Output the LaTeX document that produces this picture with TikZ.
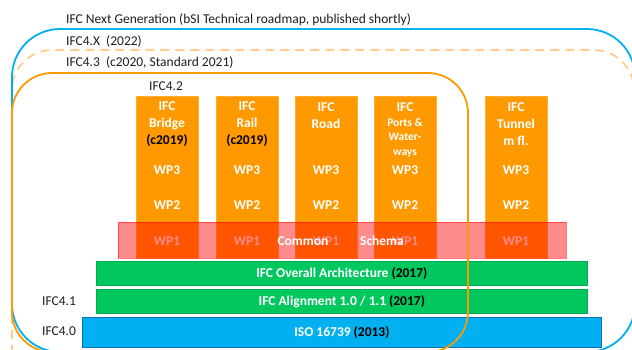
\documentclass[tikz,border=0pt]{standalone}
\usepackage{fontspec}
\setmainfont{Carlito}
\definecolor{ifcorange}{RGB}{255,153,0}
\definecolor{ifcdash}{RGB}{255,204,140}
\definecolor{ifcblue}{RGB}{0,176,240}
\definecolor{ifcblueedge}{RGB}{20,110,190}
\definecolor{ifcgreen}{RGB}{0,200,95}
\definecolor{ifcgreenedge}{RGB}{0,170,80}
\definecolor{ifctext}{RGB}{30,30,30}
\begin{document}
\begin{tikzpicture}[x=1pt,y=-1pt,
  lbl/.style={font=\fontsize{13.5}{16}\selectfont, text=ifctext, anchor=west, inner sep=0pt},
  wt/.style={font=\fontsize{13.5}{17}\bfseries\selectfont, text=white, inner sep=0pt, align=center},
  wtsmall/.style={font=\fontsize{11.5}{14.5}\bfseries\selectfont, text=white, inner sep=0pt, align=center},
  colbox/.style={fill=ifcorange, draw=ifcorange!80!white, line width=0.4pt, minimum width=62pt, minimum height=162pt, anchor=north west, inner sep=0pt},
  pinkbox/.style={fill=red, fill opacity=0.45, draw=red, draw opacity=0.5, line width=0.8pt, minimum width=448pt, minimum height=36pt, anchor=north west, inner sep=0pt},
  greenbar/.style={fill=ifcgreen, draw=ifcgreenedge, line width=0.6pt, minimum width=491pt, minimum height=24pt, anchor=north west, inner sep=0pt},
  bluebar/.style={fill=ifcblue, draw=ifcblueedge, line width=0.8pt, minimum width=519pt, minimum height=30pt, anchor=north west, inner sep=0pt},
  bartext/.style={font=\fontsize{13.5}{16}\bfseries\selectfont, text=white, inner sep=0pt},
  outline/.style={line width=1.8pt}
]
\useasboundingbox (0,0) rectangle (632,349);
\clip (0,0) rectangle (632,349);

% outlines (dashed and blue below the content)
\draw[outline, ifcdash, dash pattern=on 9pt off 6pt, rounded corners=40pt] (12,50) rectangle (634,400);
\draw[outline, ifcblue, rounded corners=48pt] (12,29) rectangle (635,352);

% labels
\node[lbl] (lng) at (66,20) {IFC Next Generation (bSI Technical roadmap, published shortly)};
\node[lbl] (l4x) at (66,41) {IFC4.X\ \ (2022)};
\node[lbl] (l43) at (66,62) {IFC4.3\ \ (c2020, Standard 2021)};
\node[lbl] (l42) at (149,86) {IFC4.2};
\node[lbl] (l41) at (42,301) {IFC4.1};
\node[lbl] (l40) at (42,331) {IFC4.0};

% columns
\node[colbox] (c1) at (136,96) {};
\node[colbox] (c2) at (216,96) {};
\node[colbox] (c3) at (295,96) {};
\node[colbox] (c4) at (374,96) {};
\node[colbox] (c5) at (485,96) {};

\node[wt] (c1t) at (167,124) {IFC\\Bridge\\\textcolor{black}{(c2019)}};
\node[wt] (c2t) at (247,124) {IFC\\Rail\\\textcolor{black}{(c2019)}};
\node[wt] (c3t) at (326,115.5) {IFC\\Road};
\node[wt] (c4t) at (405,107) {IFC};
\node[wtsmall] (c4s) at (405,137.5) {Ports \&\\Water-\\ways};
\node[wt] (c5t) at (516,124) {IFC\\Tunnel\\m fl.};

\foreach \n/\x in {1/167,2/247,3/326,4/405,5/516}{
  \node[wt] (w3\n) at (\x,170) {WP3};
  \node[wt] (w2\n) at (\x,205) {WP2};
  \node[wt] (w1\n) at (\x,241) {WP1};
}

% common schema overlay
\node[pinkbox] (cs) at (118,222) {};
\node[bartext] (csa) at (303,241) {Common};
\node[bartext] (csb) at (382,241) {Schema};

% bars
\node[greenbar] (oa) at (96,261) {};
\node[bartext] at (oa.center) {IFC Overall Architecture \textcolor{black}{(2017)}};
\node[greenbar] (al) at (96,289) {};
\node[bartext] at (al.center) {IFC Alignment 1.0 / 1.1 \textcolor{black}{(2017)}};
\node[bluebar] (iso) at (82,317) {};
\node[bartext] at (iso.center) {ISO 16739 \textcolor{black}{(2013)}};

% orange IFC4.3 outline on top
\draw[outline, ifcorange, rounded corners=40pt] (12,73) rectangle (468,352);
\end{tikzpicture}
\end{document}
